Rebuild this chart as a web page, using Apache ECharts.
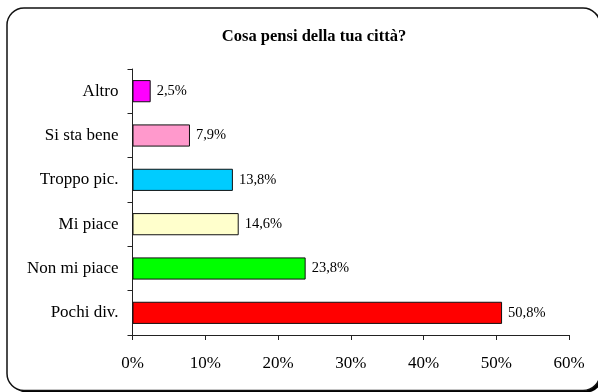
<!DOCTYPE html>
<html>
<head>
<meta charset="utf-8">
<script src="https://cdn.jsdelivr.net/npm/echarts@6/dist/echarts.min.js"></script>
<style>
  html, body { margin: 0; padding: 0; background: #fff; }
  #chart { width: 598px; height: 392px; }
</style>
</head>
<body>
<div id="chart"></div>
<script>
// Survey answers, listed bottom to top as drawn on the category axis
const categories = ['Pochi div.', 'Non mi piace', 'Mi piace', 'Troppo pic.', 'Si sta bene', 'Altro'];
const values = [50.8, 23.8, 14.6, 13.8, 7.9, 2.5];
const barColors = ['#FF0000', '#00FF00', '#FFFFCC', '#00CCFF', '#FF99CC', '#FF00FF'];
const xTicks = [0, 10, 20, 30, 40, 50, 60];

const serif = '"Liberation Serif", "Times New Roman", serif';

const chart = echarts.init(document.getElementById('chart'), null, { renderer: 'canvas' });

// chart-area frame; its right edge runs just past the canvas
const frame = { x: 7, y: 8, width: 593, height: 382.5, r: 17 };

chart.setOption({
  animation: false,
  backgroundColor: '#fff',
  graphic: [
    {
      // drop shadow behind the frame
      type: 'rect',
      z: -11,
      silent: true,
      shape: { x: frame.x + 3, y: frame.y + 2, width: frame.width, height: frame.height, r: frame.r },
      style: { fill: '#000', stroke: null }
    },
    {
      type: 'rect',
      z: -10,
      silent: true,
      shape: frame,
      style: { fill: '#fff', stroke: '#111', lineWidth: 1.5 }
    }
  ],
  title: {
    text: 'Cosa pensi della tua città?',
    left: 309,
    top: 23,
    textAlign: 'center',
    textStyle: { fontFamily: serif, fontWeight: 'bold', fontSize: 16.5, color: '#000' }
  },
  grid: { left: 132.5, right: 29, top: 69, bottom: 57, containLabel: false },
  xAxis: {
    type: 'value',
    min: xTicks[0],
    max: xTicks[xTicks.length - 1],
    interval: 10,
    axisLine: { show: true, lineStyle: { color: '#222', width: 1 } },
    axisTick: { show: true, length: 5, inside: false, lineStyle: { color: '#222' } },
    splitLine: { show: false },
    axisLabel: {
      formatter: v => v + '%',
      margin: 20,
      fontFamily: serif,
      fontSize: 17,
      color: '#000'
    }
  },
  yAxis: {
    type: 'category',
    data: categories,
    axisLine: { show: true, lineStyle: { color: '#222', width: 1 } },
    axisTick: { show: true, length: 5, alignWithLabel: false, lineStyle: { color: '#222' } },
    axisLabel: {
      margin: 14,
      fontFamily: serif,
      fontSize: 17,
      color: '#000'
    }
  },
  series: [
    {
      type: 'bar',
      data: values.map((v, i) => ({ value: v, itemStyle: { color: barColors[i] } })),
      barCategoryGap: '50%',
      itemStyle: { borderColor: '#111', borderWidth: 1 },
      label: {
        show: true,
        position: 'right',
        distance: 6,
        formatter: p => p.value.toFixed(1).replace('.', ',') + '%',
        fontFamily: serif,
        fontSize: 14.5,
        color: '#000'
      }
    }
  ]
});
</script>
</body>
</html>
